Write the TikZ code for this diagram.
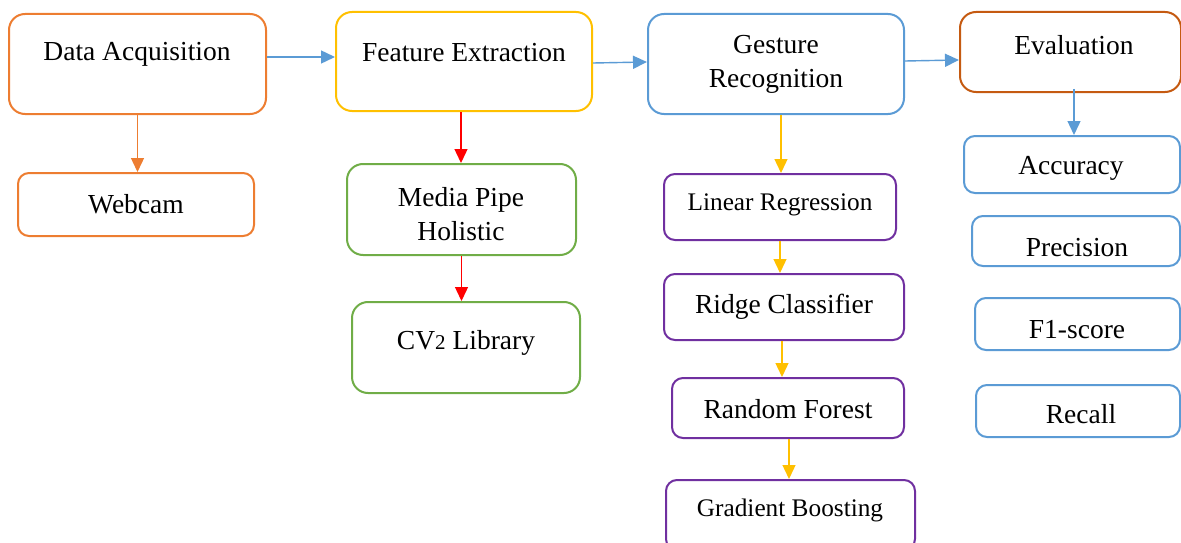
\documentclass[tikz,border=0pt]{standalone}
\usepackage{fontspec}
\setmainfont{Liberation Serif}
\usetikzlibrary{arrows.meta,calc}
\definecolor{cOrange}{HTML}{ED7D31}
\definecolor{cYellow}{HTML}{FFC000}
\definecolor{cBlue}{HTML}{5B9BD5}
\definecolor{cGreen}{HTML}{70AD47}
\definecolor{cPurple}{HTML}{7030A0}
\definecolor{cRed}{HTML}{FF0000}
\definecolor{cDark}{HTML}{C55A11}
\tikzset{
  box/.style={draw=#1, line width=2pt, rounded corners=16pt, fill=white, inner sep=0pt},
  sbox/.style={draw=#1, line width=2pt, rounded corners=11pt, fill=white, inner sep=0pt},
  lbl/.style={font=\fontsize{27.5}{34}\selectfont, align=center, inner sep=0pt, yshift=-2.5pt},
  slbl/.style={font=\fontsize{25.3}{30}\selectfont, align=center, inner sep=0pt, yshift=-2.5pt},
  arr/.style={draw=#1, line width=1.4pt, -{Triangle[length=14pt,width=13pt]}}
}
\begin{document}
\begin{tikzpicture}[x=1pt,y=-1pt]
\useasboundingbox (0,0) rectangle (1181,543);
% boxes
\node[box=cOrange, minimum width=257pt, minimum height=100pt] (da) at (137.5,64) {};
\node[sbox=cOrange, minimum width=236pt, minimum height=63pt] (web) at (136,204.5) {};
\node[box=cYellow, minimum width=256pt, minimum height=99pt] (fe) at (464,61.5) {};
\node[box=cGreen, minimum width=229pt, minimum height=91pt] (mph) at (461.5,209.5) {};
\node[box=cGreen, minimum width=228pt, minimum height=91pt] (cv) at (466,347.5) {};
\node[box=cBlue, minimum width=256pt, minimum height=100pt] (gr) at (776,64) {};
\node[sbox=cPurple, minimum width=232pt, minimum height=66pt] (lr) at (780,207) {};
\node[sbox=cPurple, minimum width=240pt, minimum height=66pt] (rc) at (784,307) {};
\node[sbox=cPurple, minimum width=232pt, minimum height=60pt] (rf) at (788,408) {};
\node[sbox=cPurple, minimum width=249pt, minimum height=70pt] (gb) at (790.5,515) {};
\node[box=cDark, minimum width=221pt, minimum height=80pt] (ev) at (1070.5,52) {};
\node[sbox=cBlue, minimum width=216pt, minimum height=57pt] (acc) at (1072,164.5) {};
\node[sbox=cBlue, minimum width=208pt, minimum height=50pt] (pre) at (1076,241) {};
\node[sbox=cBlue, minimum width=205pt, minimum height=52pt] (f1) at (1077.5,324) {};
\node[sbox=cBlue, minimum width=204pt, minimum height=52pt] (rec) at (1078,411) {};
% labels
\node[lbl] (tda) at (137,52) {Data Acquisition};
\node[lbl] (tweb) at (136,202) {Webcam};
\node[lbl] (tfe) at (464,50) {Feature Extraction};
\node[lbl] (tmph) at (461,212) {Media Pipe\\Holistic};
\node[lbl] (tcv) at (466,340) {CV{\fontsize{21}{24}\selectfont\raisebox{-0.04em}{2}} Library};
\node[lbl] (tgr) at (776,62) {Gesture\\Recognition};
\node[slbl] (tlr) at (780,202) {Linear Regression};
\node[lbl] (trc) at (784,304) {Ridge Classifier};
\node[lbl] (trf) at (788,407) {Random Forest};
\node[slbl] (tgb) at (790,508) {Gradient Boosting};
\node[lbl] (tev) at (1074,43) {Evaluation};
\node[lbl] (tacc) at (1071,166) {Accuracy};
\node[lbl] (tpre) at (1077,245) {Precision};
\node[lbl] (tf1) at (1077,327) {F1-score};
\node[lbl] (trec) at (1081,412) {Recall};
% horizontal arrows
\draw[arr=cBlue] ([yshift=7pt]da.east) -- ([yshift=4.5pt]fe.west);
\draw[arr=cBlue] ([yshift=-1.5pt]fe.east) -- ([yshift=2pt]gr.west);
\draw[arr=cBlue] ([yshift=3pt]gr.east) -- ([yshift=-8pt]ev.west);
% vertical arrows
\draw[arr=cOrange] (da.south) -- (da.south |- web.north);
\draw[arr=cRed] ([xshift=-3pt]fe.south) -- ([xshift=-3pt]fe.south |- mph.north);
\draw[arr=cRed] (mph.south) -- (mph.south |- cv.north);
\draw[arr=cYellow] ([xshift=5pt]gr.south) -- ([xshift=5pt]gr.south |- lr.north);
\draw[arr=cYellow] (lr.south) -- (lr.south |- rc.north);
\draw[arr=cYellow] ([xshift=-2pt]rc.south) -- ([xshift=-2pt]rc.south |- rf.north);
\draw[arr=cYellow] ([xshift=1pt]rf.south) -- ([xshift=1pt]rf.south |- gb.north);
\draw[arr=cBlue] ([xshift=3.5pt,yshift=4pt]ev.south) -- ([xshift=3.5pt]ev.south |- acc.north);
\end{tikzpicture}
\end{document}
